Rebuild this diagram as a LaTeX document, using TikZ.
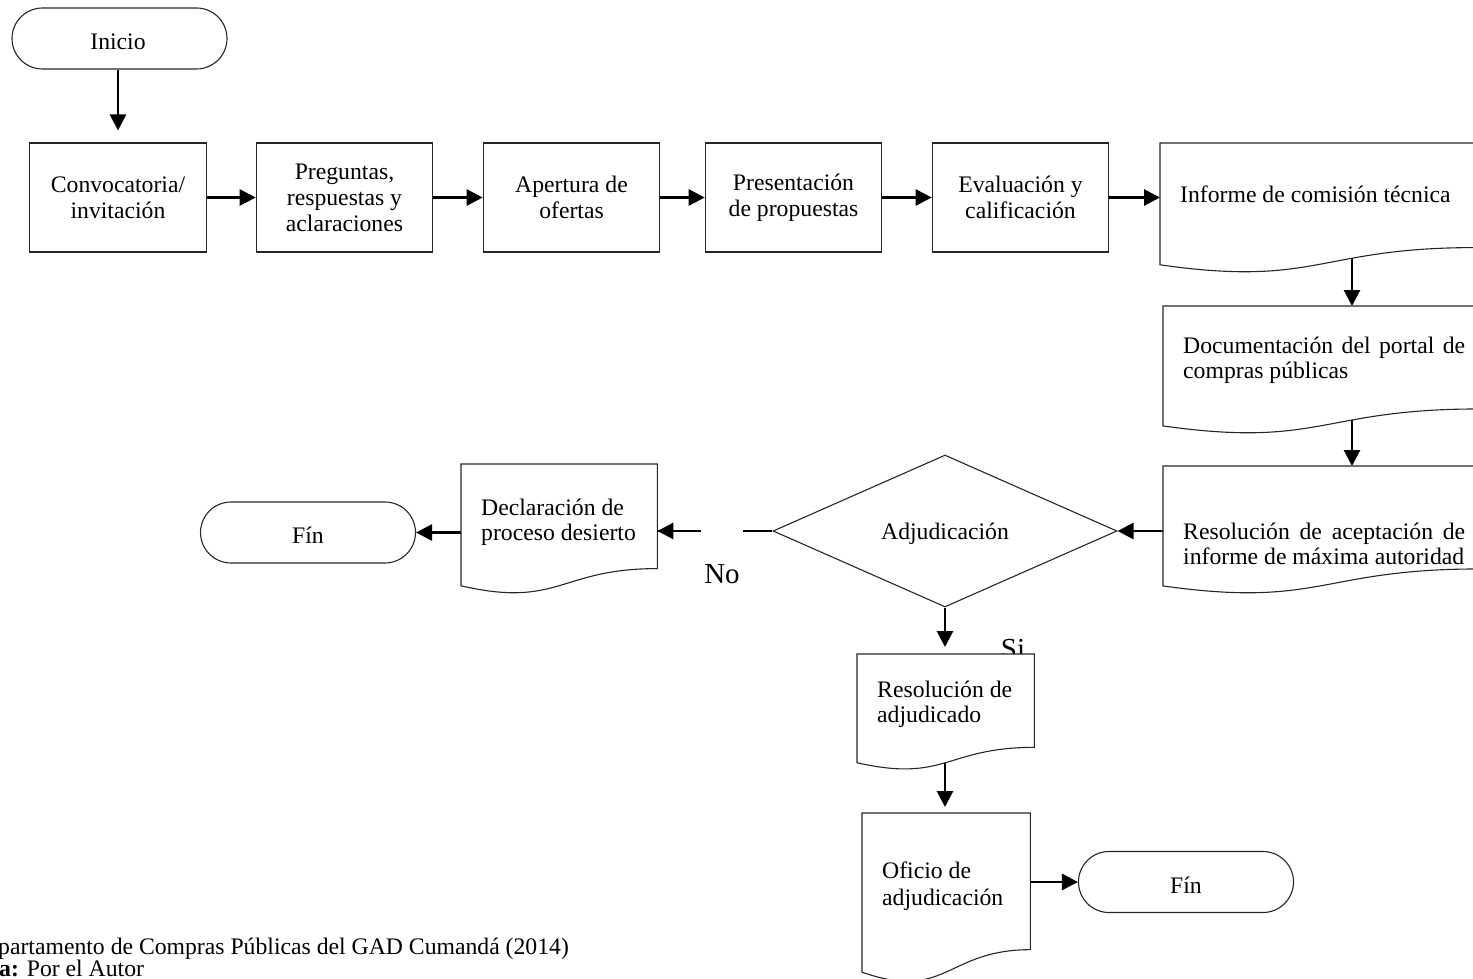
\documentclass[tikz,border=0pt]{standalone}
\usepackage{fontspec}
\setmainfont{Liberation Serif}
\usetikzlibrary{arrows.meta,shapes.geometric,shapes.misc,calc}
\pgfdeclarelayer{bg}
\pgfdeclarelayer{mid}
\pgfsetlayers{bg,mid,main}
\newcommand\fsz{\fontsize{23.7pt}{26pt}\selectfont}
\newcommand\bigsz{\fontsize{29pt}{32pt}\selectfont}
\newcommand\docoutline[1]{%
  \filldraw[docline] (#1.north west) -- (#1.north east)
    -- ($(#1.north east)!0.802!(#1.south east)$)
    .. controls ($(#1.north)!0.802!(#1.south)$) and ($(#1.north)!1.1075!(#1.south)$)
    .. ($(#1.north west)!0.934!(#1.south west)$) -- cycle;}
\tikzset{
  box/.style={draw=black!85, line width=1.1pt, minimum width=176.5pt, minimum height=109pt,
    inner sep=0pt, align=center, font=\fsz},
  term/.style={draw=black!85, line width=1.1pt, rounded rectangle, minimum width=215pt,
    minimum height=61pt, inner sep=0pt, font=\fsz},
  docnode/.style={inner sep=0pt, anchor=north west},
  docline/.style={fill=white, draw=black!85, line width=1.1pt},
  txt/.style={inner sep=0pt, font=\fsz, align=left},
  arr/.style={line width=2.8pt, -{Triangle[length=16pt,width=16pt]}},
  plain/.style={line width=1.1pt}
}
\begin{document}
\begin{tikzpicture}[x=1pt,y=-1pt]
\useasboundingbox (0,0) rectangle (1473,979);
% terminals and process boxes
\node[term] (inicio) at (119.5,38.5) {};
\node[inner sep=0pt, font=\fsz] (iniciot) at (118,42) {Inicio};
\node[box] (b1) at (118,197.5) {Convocatoria/\\invitación};
\node[box] (b2) at (344.5,197.5) {Preguntas,\\respuestas y\\aclaraciones};
\node[box] (b3) at (571.5,197.5) {Apertura de\\ofertas};
\node[box] (b4) at (793.5,197.5) {Presentación\\de propuestas};
\node[box] (b5) at (1020.5,197.5) {Evaluación y\\calificación};
% document nodes (outline drawn on mid layer)
\node[docnode, minimum width=315pt, minimum height=130pt] (inf) at (1160,143) {};
\node[docnode, minimum width=315pt, minimum height=128pt] (docp) at (1163,306) {};
\node[docnode, minimum width=315pt, minimum height=128pt] (resa) at (1163,466) {};
\node[docnode, minimum width=196pt, minimum height=130pt] (decl) at (461,464) {};
\node[docnode, minimum width=177pt, minimum height=116pt] (adj) at (857,654) {};
\node[docnode, minimum width=168pt, minimum height=170pt] (ofi) at (862,813) {};
% decision
\node[draw=black!85, line width=1.1pt, diamond, minimum width=344pt, minimum height=152pt,
  inner sep=0pt] (dia) at (945,531) {};
\node[inner sep=0pt, font=\fsz] (diat) at (945,534) {Adjudicación};
% end terminals
\node[term] (fin1) at (308,532.5) {};
\node[inner sep=0pt, font=\fsz] (fin1t) at (308,535) {Fín};
\node[term] (fin2) at (1186,882) {};
\node[inner sep=0pt, font=\fsz] (fin2t) at (1186,885) {Fín};
% document texts
\node[txt, anchor=base west] (inft) at (1180,203) {Informe de comisión técnica};
\node[txt, anchor=base west] (docpt) at (1183,353) {\makebox[282pt][s]{Documentación del portal de}};
\node[txt, anchor=base west] (docpt2) at (1183,378) {compras públicas};
\node[txt, anchor=base west] (resat) at (1183,539) {\makebox[282pt][s]{Resolución de aceptación de}};
\node[txt, anchor=base west] (resat2) at (1183,564) {informe de máxima autoridad};
\node[txt, anchor=base west] (declt) at (481,515) {Declaración de};
\node[txt, anchor=base west] (declt2) at (481,540) {proceso desierto};
\node[txt, anchor=base west] (adjt) at (877,697) {Resolución de};
\node[txt, anchor=base west] (adjt2) at (877,722) {adjudicado};
\node[txt, anchor=base west] (ofit) at (882,878) {Oficio de};
\node[txt, anchor=base west] (ofit2) at (882,905) {adjudicación};
% footer
\node[txt, anchor=base west] (src) at (-2,954) {partamento de Compras Públicas del GAD Cumandá (2014)};
\node[txt, anchor=base west] (elab) at (-1,976) {\textbf{a:} Por el Autor};
% connectors and labels on the back layer
\begin{pgfonlayer}{bg}
  \draw[arr, shorten >=12pt] (inicio.south -| b1.north) -- (b1.north);
  \draw[arr] (b1.east) -- (b2.west);
  \draw[arr] (b2.east) -- (b3.west);
  \draw[arr] (b3.east) -- (b4.west);
  \draw[arr] (b4.east) -- (b5.west);
  \draw[arr] (b5.east) -- (b5.east -| inf.west);
  \draw[arr] ($(inf.south west)+(192,-30)$) -- ($(docp.north west)+(189,0)$);
  \draw[arr] ($(docp.south west)+(189,-30)$) -- ($(resa.north west)+(189,0)$);
  \draw[arr] (dia.east -| resa.west) -- (dia.east);
  \draw[plain] (dia.west) -- (dia.west -| decl.east);
  \draw[arr] (dia.west -| decl.east) ++(43,0) -- (dia.west -| decl.east);
  \draw[arr] (decl.west |- fin1.east) -- (fin1.east);
  \draw[arr, shorten >=7pt] (dia.south) -- (dia.south |- adj.north);
  \draw[arr, shorten >=6pt] ($(adj.south -| dia.south)+(0,-30)$) -- (dia.south |- ofi.north);
  \draw[arr] (ofi.east |- fin2.west) -- (fin2.west);
  \node[inner sep=0pt, font=\bigsz, anchor=base] (si) at (1013,658) {Si};
\end{pgfonlayer}
\node[inner sep=0pt, font=\bigsz, anchor=base, fill=white, minimum width=42pt,
  text height=58pt, text depth=4pt] (no) at (722,583) {No};
\begin{pgfonlayer}{mid}
  \docoutline{inf}
  \docoutline{docp}
  \docoutline{resa}
  \docoutline{decl}
  \docoutline{adj}
  \docoutline{ofi}
\end{pgfonlayer}
\end{tikzpicture}
\end{document}
